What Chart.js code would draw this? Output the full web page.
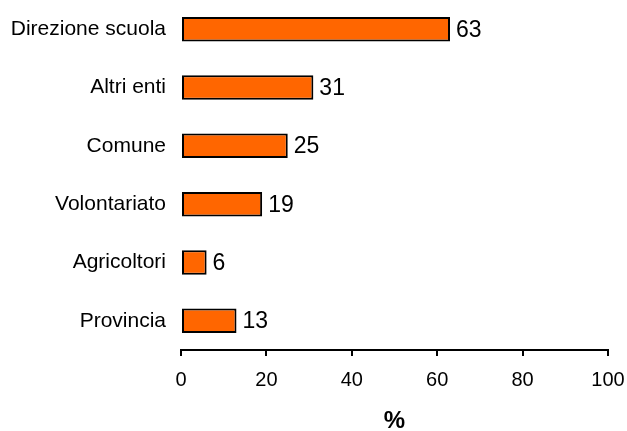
<!DOCTYPE html>
<html>
<head>
<meta charset="utf-8">
<script src="https://cdn.jsdelivr.net/npm/chart.js@4"></script>
<style>
html,body{margin:0;padding:0;background:#fff;}
#wrap{width:627px;height:431px;position:relative;}
</style>
</head>
<body>
<div id="wrap"><canvas id="c" width="627" height="431"></canvas></div>
<script>
const categories = ["Direzione scuola", "Altri enti", "Comune", "Volontariato", "Agricoltori", "Provincia"];
const values = [63, 31, 25, 19, 6, 13];
const axisTitle = "%";

const FONT = "'Liberation Sans', Arial, sans-serif";

const valueLabels = {
  id: 'valueLabels',
  afterDatasetsDraw(chart) {
    const ctx = chart.ctx;
    const meta = chart.getDatasetMeta(0);
    ctx.save();
    ctx.fillStyle = '#000';
    ctx.font = '23px ' + FONT;
    ctx.textAlign = 'left';
    ctx.textBaseline = 'middle';
    meta.data.forEach((bar, i) => {
      ctx.fillText(String(values[i]), bar.x + 6, bar.y + 1);
    });
    ctx.restore();
  }
};

new Chart(document.getElementById('c'), {
  type: 'bar',
  data: {
    labels: categories,
    datasets: [{
      data: values,
      backgroundColor: '#FF6600',
      borderColor: '#000',
      borderWidth: 2,
      borderSkipped: false,
      barPercentage: 0.42,
      categoryPercentage: 1.0
    }]
  },
  options: {
    indexAxis: 'y',
    responsive: false,
    animation: false,
    devicePixelRatio: 1,
    layout: { padding: { top: 0, right: 19, bottom: 0, left: 0 } },
    plugins: { legend: { display: false }, tooltip: { enabled: false } },
    scales: {
      x: {
        min: 0, max: 100,
        ticks: { stepSize: 20, color: '#000', font: { family: FONT, size: 20 }, padding: 12, maxRotation: 0 },
        grid: { display: true, drawOnChartArea: false, drawTicks: true, tickLength: 6, color: '#000', lineWidth: 2 },
        border: { display: true, color: '#000', width: 2 },
        title: { display: true, text: axisTitle, color: '#000', font: { family: FONT, size: 24, weight: 'bold', lineHeight: 0.8 }, padding: { top: 10, bottom: 0 } },
        afterFit(scale) { scale.height = 81; scale.paddingLeft = 0; scale.paddingRight = 0; }
      },
      y: {
        ticks: { color: '#000', font: { family: FONT, size: 21 }, padding: 0 },
        grid: { display: true, drawOnChartArea: false, drawTicks: true, tickLength: 15, color: 'rgba(0,0,0,0)' },
        border: { display: false },
        afterFit(scale) { scale.width = 181; scale.paddingTop = 0; scale.paddingBottom = 0; }
      }
    }
  },
  plugins: [valueLabels]
});
</script>
</body>
</html>
